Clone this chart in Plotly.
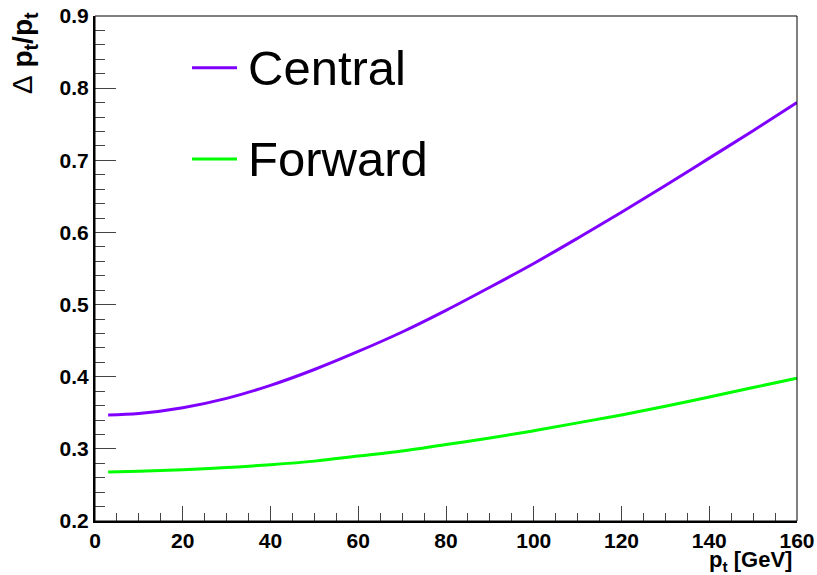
import plotly.graph_objects as go

pt = [3, 10, 20, 30, 40, 50, 60, 70, 80, 90, 100, 110, 120, 130, 140, 150, 160]
central = [0.347, 0.349, 0.357, 0.370, 0.388, 0.410, 0.435, 0.462, 0.492, 0.524,
           0.557, 0.592, 0.628, 0.665, 0.703, 0.741, 0.780]
forward = [0.268, 0.269, 0.271, 0.274, 0.278, 0.283, 0.290, 0.297, 0.306, 0.315,
           0.325, 0.336, 0.347, 0.359, 0.372, 0.385, 0.398]
names = ["Central", "Forward"]
colors = ["#7f00ff", "#00ff00"]

fig = go.Figure()
for name, ys, c in zip(names, [central, forward], colors):
    fig.add_trace(go.Scatter(x=pt, y=ys, mode="lines", name=name,
                             line=dict(color=c, width=3, shape="spline"),
                             showlegend=False))

W, H = 817, 575
L, R, T, B = 95, 797, 16, 521
FAM = "Liberation Sans, Arial, sans-serif"

fig.update_layout(
    width=W, height=H,
    margin=dict(l=L, r=W - R, t=T, b=H - B, autoexpand=False),
    paper_bgcolor="white", plot_bgcolor="white",
    font=dict(family=FAM, size=21, color="black"),
    xaxis=dict(range=[0, 160], showgrid=False, zeroline=False, automargin=False,
               showline=True, linecolor="black", linewidth=2,
               ticks="inside", ticklen=15, tickwidth=1, tickcolor="#444",
               dtick=20, tick0=0,
               tickfont=dict(family=FAM, size=21, color="black", weight="bold"),
               minor=dict(ticks="inside", ticklen=8, dtick=5, tickcolor="#444", tickwidth=1)),
    yaxis=dict(range=[0.2, 0.9], showgrid=False, zeroline=False, automargin=False,
               showline=True, linecolor="black", linewidth=2,
               ticks="inside", ticklen=21, tickwidth=1, tickcolor="#444",
               dtick=0.1, tick0=0.2, tickformat=".1f",
               tickfont=dict(family=FAM, size=21, color="black", weight="bold"),
               minor=dict(ticks="inside", ticklen=10, dtick=0.02, tickcolor="#444", tickwidth=1)),
)

# frame
fig.add_shape(type="rect", xref="paper", yref="paper", x0=0, y0=0, x1=1, y1=1,
              line=dict(color="black", width=1), layer="above")

# legend
leg_y = [67.7, 159]
for name, c, yp in zip(names, colors, leg_y):
    yy = 1 - (yp - T) / (B - T)
    x0 = (192 - L) / (R - L)
    x1 = (237 - L) / (R - L)
    fig.add_shape(type="line", xref="paper", yref="paper", x0=x0, x1=x1, y0=yy, y1=yy,
                  line=dict(color=c, width=3))
    fig.add_annotation(xref="paper", yref="paper", x=(246 - L) / (R - L), y=yy,
                       text=name, showarrow=False, xanchor="left", yanchor="middle",
                       font=dict(family=FAM, size=49, color="black"))

# axis titles
fig.add_annotation(xref="paper", yref="paper", x=1, y=0, xshift=-3, yshift=-24,
                   text="p<sub>t</sub> [GeV]", showarrow=False,
                   xanchor="right", yanchor="top",
                   font=dict(family=FAM, size=22, color="black", weight="bold"))
fig.add_annotation(xref="paper", yref="paper", x=0, y=1, xshift=-71, yshift=6,
                   text="<span style='font-weight:normal'>Δ</span> p<sub>t</sub>/p<sub>t</sub>",
                   showarrow=False, textangle=-90,
                   xanchor="center", yanchor="top",
                   font=dict(family=FAM, size=28, color="black", weight="bold"))

fig.write_html("out.html", config={"displayModeBar": False},
               post_script="document.body.style.margin='0';document.body.style.overflow='hidden';")
